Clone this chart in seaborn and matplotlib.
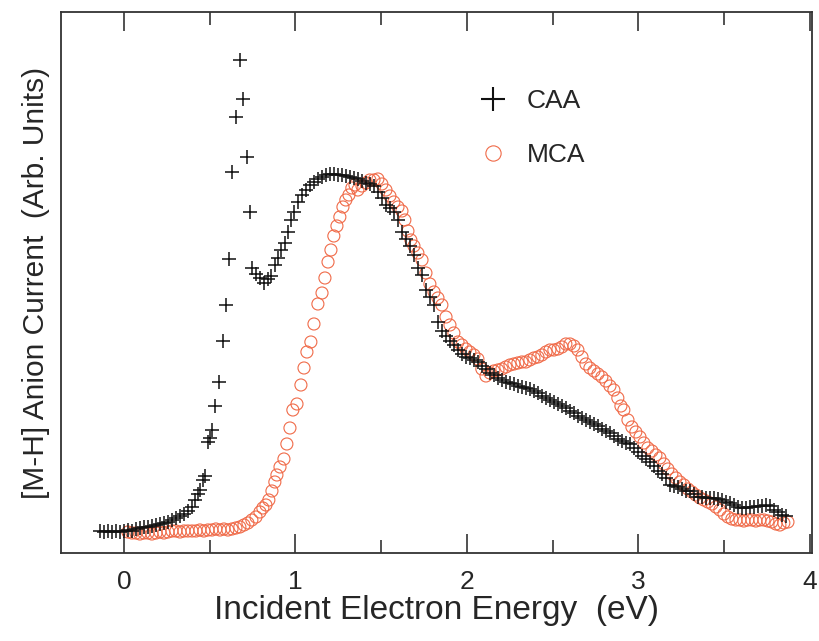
import pandas as pd
import matplotlib
matplotlib.use("Agg")
import matplotlib.pyplot as plt
from matplotlib.lines import Line2D
from matplotlib.ticker import MultipleLocator
import seaborn as sns

# CAA (black crosses): energy (eV), anion current (arb. units)
caa_energy = [
    -0.140, -0.117, -0.093, -0.070, -0.047, -0.023, 0.000, 0.023, 0.047, 0.070,
    0.093, 0.117, 0.140, 0.163, 0.187, 0.210, 0.233, 0.257, 0.280, 0.303,
    0.327, 0.350, 0.373, 0.397, 0.414, 0.431, 0.443, 0.461, 0.472, 0.490,
    0.501, 0.513, 0.531, 0.554, 0.577, 0.595, 0.612, 0.630, 0.653, 0.676,
    0.694, 0.717, 0.735, 0.746, 0.770, 0.793, 0.816, 0.840, 0.857, 0.880,
    0.898, 0.915, 0.939, 0.956, 0.974, 0.991, 1.015, 1.038, 1.061, 1.085,
    1.108, 1.131, 1.155, 1.178, 1.201, 1.224, 1.248, 1.271, 1.294, 1.318,
    1.341, 1.364, 1.388, 1.411, 1.434, 1.458, 1.481, 1.504, 1.528, 1.551,
    1.574, 1.598, 1.621, 1.644, 1.668, 1.691, 1.714, 1.738, 1.761, 1.784,
    1.808, 1.831, 1.854, 1.878, 1.901, 1.924, 1.948, 1.971, 1.994, 2.017,
    2.041, 2.064, 2.087, 2.111, 2.134, 2.157, 2.181, 2.204, 2.227, 2.251,
    2.274, 2.297, 2.321, 2.344, 2.367, 2.391, 2.414, 2.437, 2.461, 2.484,
    2.507, 2.531, 2.554, 2.577, 2.601, 2.624, 2.647, 2.671, 2.694, 2.717,
    2.741, 2.764, 2.787, 2.810, 2.834, 2.857, 2.880, 2.904, 2.927, 2.950,
    2.974, 2.997, 3.020, 3.044, 3.067, 3.090, 3.114, 3.137, 3.160, 3.184,
    3.207, 3.230, 3.254, 3.277, 3.300, 3.324, 3.347, 3.370, 3.394, 3.417,
    3.440, 3.464, 3.487, 3.510, 3.534, 3.557, 3.580, 3.603, 3.627, 3.650,
    3.673, 3.697, 3.720, 3.743, 3.767, 3.790, 3.813, 3.837, 3.860,
]
caa_current = [
    0.22, 0.21, 0.22, 0.21, 0.22, 0.21, 0.22, 0.23, 0.22, 0.24,
    0.25, 0.26, 0.26, 0.27, 0.28, 0.29, 0.30, 0.31, 0.33, 0.35,
    0.37, 0.39, 0.42, 0.46, 0.53, 0.59, 0.63, 0.73, 0.77, 1.11,
    1.15, 1.23, 1.47, 1.71, 2.12, 2.48, 2.94, 3.81, 4.36, 4.93,
    4.54, 3.96, 3.41, 2.85, 2.79, 2.75, 2.70, 2.74, 2.77, 2.88,
    2.95, 3.03, 3.10, 3.21, 3.33, 3.41, 3.51, 3.58, 3.63, 3.68,
    3.71, 3.74, 3.76, 3.78, 3.79, 3.79, 3.78, 3.78, 3.77, 3.76,
    3.75, 3.74, 3.72, 3.70, 3.69, 3.67, 3.61, 3.55, 3.48, 3.45,
    3.41, 3.33, 3.21, 3.14, 3.07, 2.98, 2.85, 2.78, 2.63, 2.56,
    2.48, 2.31, 2.22, 2.17, 2.12, 2.08, 2.03, 1.99, 1.96, 1.95,
    1.93, 1.91, 1.87, 1.84, 1.80, 1.78, 1.75, 1.73, 1.71, 1.70,
    1.69, 1.67, 1.66, 1.65, 1.64, 1.62, 1.60, 1.57, 1.55, 1.53,
    1.51, 1.49, 1.47, 1.45, 1.42, 1.40, 1.37, 1.35, 1.33, 1.31,
    1.29, 1.27, 1.24, 1.22, 1.20, 1.17, 1.14, 1.12, 1.10, 1.09,
    1.05, 1.01, 0.97, 0.94, 0.91, 0.87, 0.82, 0.79, 0.75, 0.68,
    0.67, 0.66, 0.64, 0.62, 0.62, 0.59, 0.56, 0.56, 0.55, 0.55,
    0.55, 0.54, 0.53, 0.51, 0.50, 0.48, 0.46, 0.45, 0.45, 0.46,
    0.46, 0.47, 0.47, 0.48, 0.47, 0.43, 0.41, 0.38, 0.37,
]

# MCA (orange open circles)
mca_energy = [
    0.023, 0.047, 0.070, 0.093, 0.117, 0.140, 0.163, 0.187, 0.210, 0.233,
    0.257, 0.280, 0.303, 0.327, 0.350, 0.373, 0.397, 0.420, 0.443, 0.466,
    0.490, 0.513, 0.536, 0.560, 0.583, 0.606, 0.630, 0.653, 0.676, 0.700,
    0.723, 0.746, 0.770, 0.793, 0.810, 0.828, 0.845, 0.863, 0.880, 0.892,
    0.910, 0.933, 0.950, 0.968, 0.985, 1.009, 1.032, 1.050, 1.067, 1.090,
    1.108, 1.131, 1.155, 1.172, 1.190, 1.207, 1.224, 1.242, 1.259, 1.277,
    1.294, 1.312, 1.329, 1.347, 1.364, 1.388, 1.411, 1.434, 1.458, 1.481,
    1.504, 1.528, 1.551, 1.574, 1.598, 1.621, 1.638, 1.656, 1.673, 1.691,
    1.714, 1.738, 1.761, 1.784, 1.808, 1.831, 1.854, 1.878, 1.901, 1.924,
    1.948, 1.971, 1.994, 2.017, 2.041, 2.064, 2.087, 2.111, 2.134, 2.157,
    2.181, 2.204, 2.227, 2.251, 2.274, 2.297, 2.321, 2.344, 2.367, 2.391,
    2.414, 2.437, 2.461, 2.484, 2.507, 2.531, 2.554, 2.577, 2.601, 2.624,
    2.647, 2.671, 2.694, 2.717, 2.741, 2.764, 2.787, 2.810, 2.834, 2.857,
    2.880, 2.898, 2.915, 2.939, 2.962, 2.985, 3.009, 3.032, 3.055, 3.079,
    3.102, 3.125, 3.149, 3.172, 3.195, 3.219, 3.242, 3.265, 3.289, 3.312,
    3.335, 3.359, 3.382, 3.405, 3.429, 3.452, 3.475, 3.499, 3.522, 3.545,
    3.569, 3.592, 3.615, 3.638, 3.662, 3.685, 3.708, 3.732, 3.755, 3.778,
    3.802, 3.825, 3.848, 3.872,
]
mca_current = [
    0.21, 0.20, 0.20, 0.19, 0.20, 0.20, 0.19, 0.20, 0.21, 0.20,
    0.21, 0.22, 0.22, 0.21, 0.22, 0.22, 0.22, 0.22, 0.23, 0.22,
    0.23, 0.23, 0.24, 0.23, 0.24, 0.23, 0.24, 0.25, 0.26, 0.28,
    0.30, 0.33, 0.36, 0.41, 0.45, 0.48, 0.53, 0.62, 0.71, 0.78,
    0.86, 0.94, 1.09, 1.25, 1.43, 1.49, 1.68, 1.85, 2.01, 2.11,
    2.29, 2.49, 2.60, 2.75, 2.91, 3.03, 3.17, 3.27, 3.36, 3.46,
    3.53, 3.58, 3.65, 3.68, 3.63, 3.67, 3.70, 3.73, 3.73, 3.74,
    3.69, 3.63, 3.57, 3.51, 3.46, 3.42, 3.33, 3.22, 3.13, 3.07,
    3.00, 2.93, 2.80, 2.69, 2.61, 2.55, 2.48, 2.36, 2.28, 2.20,
    2.11, 2.08, 2.04, 2.01, 1.98, 1.94, 1.84, 1.77, 1.80, 1.82,
    1.83, 1.84, 1.86, 1.88, 1.89, 1.90, 1.91, 1.91, 1.93, 1.95,
    1.96, 1.98, 2.01, 2.03, 2.03, 2.04, 2.06, 2.09, 2.09, 2.07,
    2.03, 1.96, 1.89, 1.85, 1.82, 1.79, 1.76, 1.72, 1.67, 1.63,
    1.55, 1.47, 1.43, 1.33, 1.26, 1.21, 1.16, 1.10, 1.05, 1.02,
    0.98, 0.95, 0.89, 0.84, 0.79, 0.75, 0.71, 0.68, 0.64, 0.61,
    0.58, 0.55, 0.53, 0.51, 0.49, 0.46, 0.43, 0.39, 0.36, 0.34,
    0.33, 0.33, 0.32, 0.33, 0.33, 0.32, 0.33, 0.33, 0.32, 0.31,
    0.29, 0.28, 0.30, 0.31,
]

x_ticks = [0, 1, 2, 3, 4]

caa = pd.DataFrame({"energy": caa_energy, "current": caa_current})
mca = pd.DataFrame({"energy": mca_energy, "current": mca_current})

sns.set_style("white")
plt.rcParams["font.family"] = ["Liberation Sans", "DejaVu Sans"]

fig = plt.figure(figsize=(8.2, 6.41), dpi=100)
ax = fig.add_axes([0.0744, 0.1373, 0.9158, 0.844])

orange = "#F06A48"
black = "#111111"
sns.scatterplot(data=mca, x="energy", y="current", ax=ax, marker="o", s=75,
                facecolor="none", edgecolor=orange, linewidth=0.8, zorder=2)
sns.scatterplot(data=caa, x="energy", y="current", ax=ax, marker="+", s=90,
                color=black, linewidth=1.1, zorder=3)

ax.set_xlim(-0.367, 4.012)
ax.set_ylim(0, 5.41)
ax.set_xticks(x_ticks)
ax.xaxis.set_minor_locator(MultipleLocator(0.5))
ax.set_yticks([])
ax.tick_params(axis="x", which="both", direction="in", top=True, bottom=True,
               color="#333333", width=1.2, labelsize=19, pad=12)
ax.tick_params(axis="x", which="major", length=14)
ax.tick_params(axis="x", which="minor", length=9.5)
for sp in ax.spines.values():
    sp.set_color("#333333")
    sp.set_linewidth(1.3)

ax.set_xlabel("Incident Electron Energy  (eV)", fontsize=24, labelpad=1)
ax.set_ylabel("[M-H] Anion Current  (Arb. Units)", fontsize=21.5, labelpad=8)

handles = [
    Line2D([], [], linestyle="none", marker="+", markersize=17, markeredgewidth=1.5, color=black),
    Line2D([], [], linestyle="none", marker="o", markersize=11, markerfacecolor="none",
           markeredgecolor=orange, markeredgewidth=0.8),
]
ax.legend(handles, ["CAA", "MCA"], loc="upper left", bbox_to_anchor=(0.508, 0.902),
          frameon=False, fontsize=19, handletextpad=0.3, labelspacing=1.15)

fig.savefig("out.png", dpi=100)
